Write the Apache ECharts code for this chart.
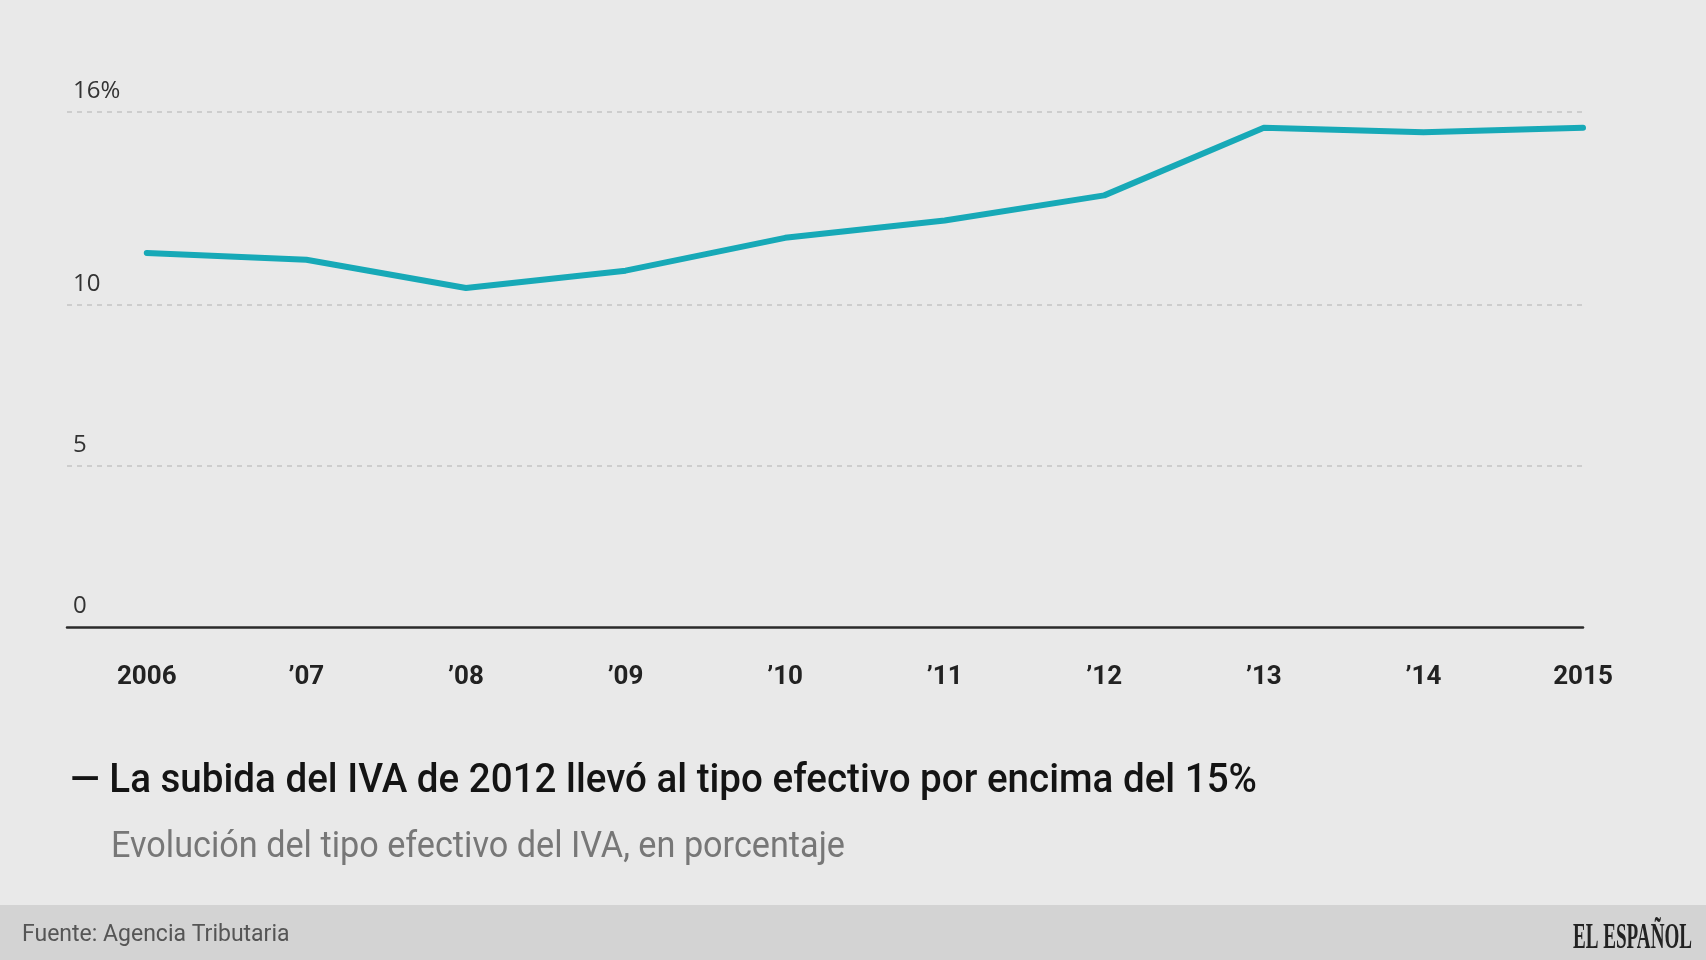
<!DOCTYPE html>
<html>
<head>
<meta charset="utf-8">
<script src="https://cdn.jsdelivr.net/npm/echarts@6/dist/echarts.min.js"></script>
<style>
html,body{margin:0;padding:0;background:#e9e9e9;}
#c{width:1706px;height:960px;}
</style>
</head>
<body>
<div id="c"></div>
<script>
const years = [2006, 2007, 2008, 2009, 2010, 2011, 2012, 2013, 2014, 2015];
const yearLabels = ['2006', '\u201907', '\u201908', '\u201909', '\u201910', '\u201911', '\u201912', '\u201913', '\u201914', '2015'];
const ivaRate = [11.62, 11.41, 10.53, 11.07, 12.09, 12.63, 13.41, 15.51, 15.37, 15.51];
const yTicks = [0, 5, 10, 16];
const yTickLabels = ['0', '5', '10', '16%'];
const gridValues = [5, 10, 16];

const titleText = '\u2014 La subida del IVA de 2012 llevó al tipo efectivo por encima del 15%';
const subtitleText = 'Evolución del tipo efectivo del IVA, en porcentaje';
const sourceText = 'Fuente: Agencia Tributaria';
const logoText = 'EL ESPAÑOL';

const mctx = document.createElement('canvas').getContext('2d');
function fitScale(font, text, target) {
  mctx.font = font;
  const w = mctx.measureText(text).width;
  return w > 0 ? target / w : 1;
}
const titleFont = '500 41px Roboto';
const subFont = '36.5px Roboto';
const logoFont = 'bold 35px "Liberation Serif", serif';

const chart = echarts.init(document.getElementById('c'));
chart.setOption({
  backgroundColor: '#e9e9e9',
  animation: false,
  grid: { left: 67, right: 123, top: 112, bottom: 333 },
  xAxis: {
    type: 'value',
    min: 2005.5,
    max: 2015,
    axisLine: { show: true, onZero: false, lineStyle: { color: '#2b2b2b', width: 2.5 } },
    axisTick: { show: false },
    splitLine: { show: false },
    axisLabel: {
      customValues: years,
      formatter: v => yearLabels[years.indexOf(Math.round(v))] || '',
      margin: 37,
      fontFamily: 'Roboto',
      fontWeight: 'bold',
      fontSize: 26,
      color: '#222'
    }
  },
  yAxis: {
    type: 'value',
    min: 0,
    max: 16,
    axisLine: { show: false },
    axisTick: { show: false },
    splitLine: { show: false },
    axisLabel: {
      customValues: yTicks,
      inside: true,
      margin: 6,
      align: 'left',
      verticalAlign: 'bottom',
      padding: [0, 0, 9, 0],
      formatter: v => yTickLabels[yTicks.indexOf(v)] || '',
      fontFamily: 'Open Sans',
      fontSize: 24,
      color: '#333'
    }
  },
  series: [{
    type: 'line',
    data: years.map((y, i) => [y, ivaRate[i]]),
    showSymbol: false,
    symbol: 'none',
    lineStyle: { color: '#17a9b7', width: 6, cap: 'round', join: 'round' },
    z: 3,
    markLine: {
      silent: true,
      symbol: 'none',
      label: { show: false },
      lineStyle: { color: '#c4c4c4', type: [5, 5], width: 1.5 },
      data: gridValues.map(v => ({ yAxis: v })),
      z: 1
    }
  }],
  graphic: [
    {
      type: 'rect', x: 0, y: 905, shape: { width: 1706, height: 55 },
      style: { fill: '#d3d3d3' }, silent: true
    },
    {
      type: 'text', x: 70, y: 761, scaleX: fitScale(titleFont, titleText, 1187),
      style: { text: titleText, font: titleFont, fill: '#141414', textVerticalAlign: 'top' }
    },
    {
      type: 'text', x: 111, y: 829, scaleX: fitScale(subFont, subtitleText, 734),
      style: { text: subtitleText, font: subFont, fill: '#777', textVerticalAlign: 'top' }
    },
    {
      type: 'text', x: 22, y: 924,
      style: { text: sourceText, font: '23px Roboto', fill: '#555', textVerticalAlign: 'top' }
    },
    {
      type: 'text', x: 1692, y: 921, scaleX: fitScale(logoFont, logoText, 119),
      style: { text: logoText, font: logoFont, fill: '#222', textAlign: 'right', textVerticalAlign: 'top' }
    }
  ]
});
</script>
</body>
</html>
